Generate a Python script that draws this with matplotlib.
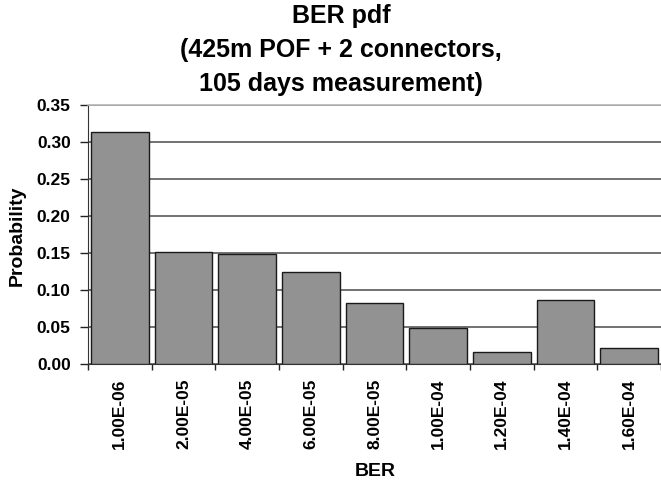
import matplotlib
matplotlib.use("Agg")
import matplotlib.pyplot as plt
import numpy as np

categories = ["1.00E-06", "2.00E-05", "4.00E-05", "6.00E-05", "8.00E-05",
              "1.00E-04", "1.20E-04", "1.40E-04", "1.60E-04"]
probability = [0.313, 0.152, 0.149, 0.125, 0.083, 0.048, 0.016, 0.086, 0.022]
yticks = [0.00, 0.05, 0.10, 0.15, 0.20, 0.25, 0.30, 0.35]

plt.rcParams['font.family'] = ['Liberation Sans', 'DejaVu Sans']

fig = plt.figure(figsize=(6.61, 4.82), dpi=100)
ax = fig.add_axes([88/661, 1-364/482, 573/661, 259/482])

x = np.arange(len(categories))
ax.bar(x, probability, width=0.91, color='#929292', edgecolor='#1a1a1a', linewidth=1.0, zorder=3)

ax.set_xlim(-0.5, len(categories) - 0.5)
ax.set_ylim(0, 0.35)
ax.set_yticks(yticks)
ax.set_yticklabels([f"{v:.2f}" for v in yticks], fontsize=12.5, fontweight='bold')
ax.yaxis.grid(True, color='#4a4a4a', linewidth=1.1, zorder=0)
ax.set_axisbelow(True)

ax.set_xticks(x)
ax.set_xticklabels(categories, rotation=90, fontsize=12.5, fontweight='bold', va='top')
ax.set_xticks(np.arange(len(categories) + 1) - 0.5, minor=True)
ax.tick_params(axis='x', which='major', length=0, pad=10.5)
ax.tick_params(axis='x', which='minor', length=4.5, width=1, color='#222222', direction='out')
ax.tick_params(axis='y', length=5.5, width=1, color='#222222', pad=7)

ax.spines['right'].set_visible(False)
ax.spines['top'].set_color('#b5b5b5')
ax.spines['top'].set_linewidth(1.2)
ax.spines['left'].set_color('#333333')
ax.spines['bottom'].set_color('#333333')

fig.text(341/661, 1-50/482, "BER pdf\n(425m POF + 2 connectors,\n105 days measurement)",
         ha='center', va='center', fontsize=18, fontweight='bold', linespacing=1.5)
fig.text(17/661, 1-236/482, "Probability", rotation=90, ha='center', va='center',
         fontsize=14, fontweight='bold')
fig.text(375/661, 1-471/482, "BER", ha='center', va='center', fontsize=14, fontweight='bold')

fig.savefig("out.png", dpi=100, facecolor='white')
